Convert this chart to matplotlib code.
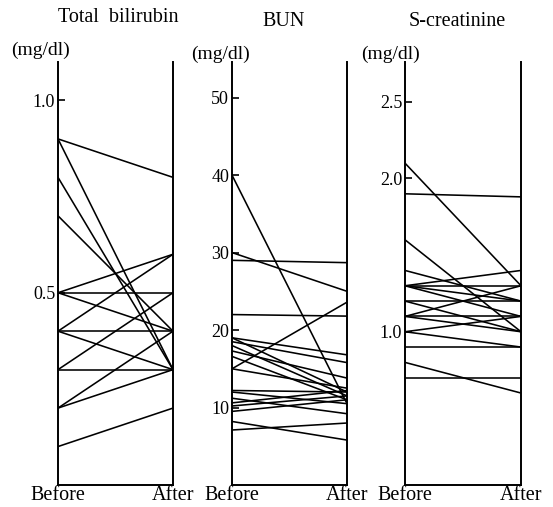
import matplotlib
matplotlib.use("Agg")
import matplotlib.pyplot as plt

# ---- data ----
titles = ["Total  bilirubin", "BUN", "S-creatinine"]
unit = "(mg/dl)"
xlabels = ["Before", "After"]

bili_before = [0.9, 0.9, 0.8, 0.7, 0.5, 0.5, 0.5, 0.4, 0.4, 0.4, 0.3, 0.3, 0.2, 0.2, 0.1]
bili_after  = [0.8, 0.3, 0.3, 0.4, 0.6, 0.5, 0.4, 0.6, 0.4, 0.3, 0.5, 0.3, 0.4, 0.3, 0.2]
bili_ticks = [0.5, 1.0]
bili_ticklabels = ["0.5", "1.0"]

bun_before = [40, 30, 29, 22, 15, 19, 19, 18.5, 18, 17.3, 16.6, 15, 12.2, 12, 11.2, 10.6, 10.2, 9.5, 8.2, 7.1]
bun_after  = [10.5, 25, 28.7, 21.8, 23.6, 16.8, 12, 15.8, 11.5, 13.8, 11, 12.5, 12, 10.5, 9.2, 12.2, 11.5, 11, 5.8, 8.0]
bun_ticks = [10, 20, 30, 40, 50]
bun_ticklabels = ["10", "20", "30", "40", "50"]

cre_before = [2.1, 1.9, 1.6, 1.4, 1.3, 1.3, 1.3, 1.3, 1.2, 1.2, 1.1, 1.1, 1.1, 1.0, 1.0, 0.9, 0.8, 0.7]
cre_after  = [1.3, 1.88, 1.0, 1.2, 1.4, 1.3, 1.2, 1.1, 1.2, 1.0, 1.3, 1.1, 1.0, 1.1, 0.9, 0.9, 0.6, 0.7]
cre_ticks = [1.0, 2.0, 2.5]
cre_ticklabels = ["1.0", "2.0", "2.5"]

panels = [
    (bili_before, bili_after, bili_ticks, bili_ticklabels, 1.10),
    (bun_before, bun_after, bun_ticks, bun_ticklabels, 54.6),
    (cre_before, cre_after, cre_ticks, cre_ticklabels, 2.76),
]

W, H = 553, 507
fig = plt.figure(figsize=(W / 100, H / 100), dpi=100)
plt.rcParams['font.family'] = ['Liberation Serif', 'DejaVu Serif']

lefts = [58, 232, 405]
widths = [115, 115, 116]
top_px, bot_px = 62, 485
title_x = [118, 284, 457]
title_y = [18, 21, 21]
unit_x = [40, 220, 391]
unit_y = [50, 54, 54]

for i, (b, a, ticks, tl, ymax) in enumerate(panels):
    ax = fig.add_axes([lefts[i] / W, (H - bot_px) / H, widths[i] / W, (bot_px - top_px) / H])
    for yb, ya in zip(b, a):
        ax.plot([0, 1], [yb, ya], color='black', lw=1.15, solid_capstyle='butt')
    ax.set_xlim(0, 1)
    ax.set_ylim(0, ymax)
    ax.spines['top'].set_visible(False)
    for s in ['left', 'right', 'bottom']:
        ax.spines[s].set_linewidth(1.4)
    ax.set_yticks(ticks)
    ax.set_yticklabels(tl, fontsize=13)
    ax.tick_params(axis='y', direction='in', length=5, width=1.2, pad=2)
    ax.set_xticks([0, 1])
    ax.set_xticklabels(xlabels, fontsize=14.5)
    ax.tick_params(axis='x', length=0, pad=0.5)
    fig.text(title_x[i] / W, 1 - title_y[i] / H, titles[i], ha='center', va='center', fontsize=14.5)
    fig.text(unit_x[i] / W, 1 - unit_y[i] / H, unit, ha='center', va='center', fontsize=14)

fig.savefig("out.png", dpi=100)
